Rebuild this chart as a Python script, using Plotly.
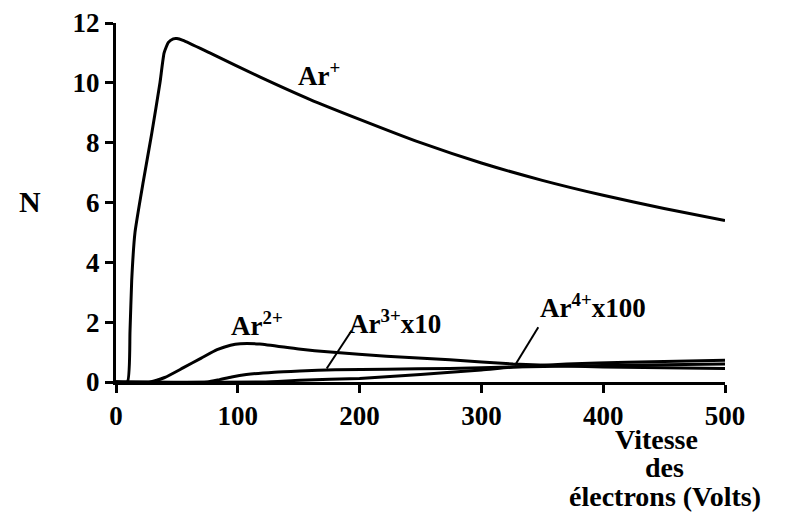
import plotly.graph_objects as go

# Data
v_ar1 = [0, 9.3, 11.5, 12.9, 15.6, 22.4, 29.3, 36.1, 39.5, 43, 47, 50, 55, 77, 118, 159, 200, 250, 300, 350, 400, 450, 500]
n_ar1 = [0, 0, 1.7, 3.4, 5.0, 6.7, 8.3, 10.0, 11.0, 11.35, 11.47, 11.48, 11.42, 11.0, 10.2, 9.45, 8.78, 8.0, 7.32, 6.74, 6.24, 5.8, 5.4]

v_ar2 = [0, 28, 40, 55, 70, 83, 94, 102, 118, 150, 176, 222, 274, 326, 400, 500]
n_ar2 = [0, 0, 0.15, 0.47, 0.8, 1.08, 1.23, 1.28, 1.27, 1.1, 1.0, 0.86, 0.74, 0.6, 0.5, 0.45]

v_ar3 = [0, 75, 85, 95, 107, 130, 151, 180, 222, 274, 326, 400, 500]
n_ar3 = [0, 0, 0.08, 0.17, 0.25, 0.33, 0.37, 0.41, 0.43, 0.45, 0.5, 0.55, 0.6]

v_ar4 = [0, 120, 151, 200, 250, 300, 326, 370, 420, 500]
n_ar4 = [0, 0, 0.06, 0.12, 0.25, 0.4, 0.5, 0.6, 0.66, 0.73]

x_ticks = [0, 100, 200, 300, 400, 500]
y_ticks = [0, 2, 4, 6, 8, 10, 12]

FONT = "Liberation Serif"
W, H = 784, 513

fig = go.Figure()
for vx, ny in [(v_ar1, n_ar1), (v_ar2, n_ar2), (v_ar3, n_ar3), (v_ar4, n_ar4)]:
    fig.add_trace(go.Scatter(x=vx, y=ny, mode="lines",
                             line=dict(color="black", width=3, shape="spline", smoothing=0.5),
                             showlegend=False, hoverinfo="skip"))

lab = dict(family=FONT, size=27, color="black")
fig.add_annotation(x=167, y=10.3, text="<b>Ar<sup>+</sup></b>", showarrow=False, font=lab)
fig.add_annotation(x=116, y=1.95, text="<b>Ar<sup>2+</sup></b>", showarrow=False, font=lab)
fig.add_annotation(x=229, y=2.0, text="<b>Ar<sup>3+</sup>x10</b>", showarrow=False, font=lab)
fig.add_annotation(x=392, y=2.55, text="<b>Ar<sup>4+</sup>x100</b>", showarrow=False, font=lab)

fig.add_shape(type="line", x0=193.5, y0=1.72, x1=173, y1=0.45, line=dict(color="black", width=2))
fig.add_shape(type="line", x0=346.7, y0=1.83, x1=327.6, y1=0.56, line=dict(color="black", width=2))

tf = dict(family=FONT, size=28, color="black")
fig.add_annotation(xref="paper", yref="paper", x=-0.141, y=0.503, xanchor="center", yanchor="middle",
                   text="<b>N</b>", showarrow=False, font=dict(family=FONT, size=30, color="black"))
for txt, px, py in [("Vitesse", 0.887, -0.160), ("des", 0.901, -0.238), ("électrons (Volts)", 0.901, -0.318)]:
    fig.add_annotation(xref="paper", yref="paper", x=px, y=py, xanchor="center", yanchor="middle",
                       text="<b>" + txt + "</b>", showarrow=False, font=tf)

fig.update_layout(
    width=W, height=H,
    margin=dict(l=108, r=67, t=15, b=139, autoexpand=False),
    plot_bgcolor="white", paper_bgcolor="white",
    font=dict(family=FONT, size=26, color="black"),
    xaxis=dict(range=[0, 500], tickvals=x_ticks, ticktext=["<b>%d</b>" % t for t in x_ticks],
               showline=True, linecolor="black", linewidth=3, ticklabeloverflow="allow", automargin=False,
               ticks="outside", ticklen=8, tickwidth=2.5, tickcolor="black", showgrid=False,
               zeroline=False, tickfont=dict(family=FONT, size=27)),
    yaxis=dict(range=[0, 12], tickvals=y_ticks, ticktext=["<b>%d</b>" % t for t in y_ticks],
               showline=True, linecolor="black", linewidth=3, ticklabeloverflow="allow", automargin=False,
               ticks="outside", ticklen=8, tickwidth=2.5, tickcolor="black", showgrid=False,
               zeroline=False, tickfont=dict(family=FONT, size=27)),
)

fig.write_html("out.html")
